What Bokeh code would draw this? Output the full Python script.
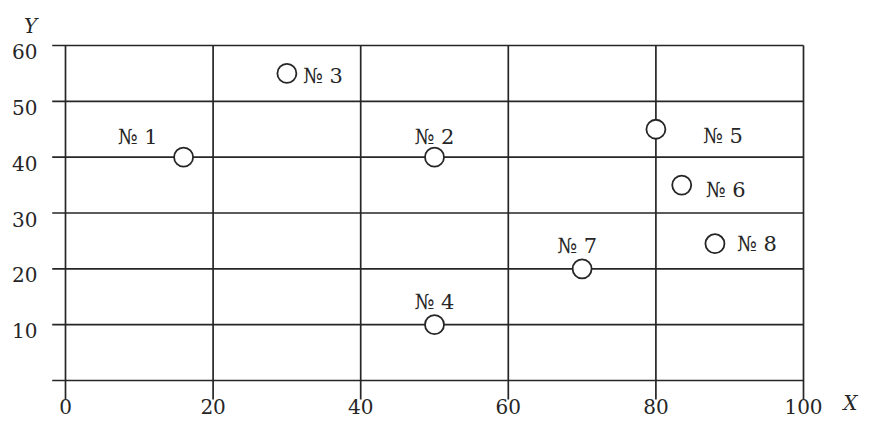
from bokeh.plotting import figure
from bokeh.models import ColumnDataSource
from bokeh.embed import file_html
from bokeh.resources import INLINE
from bokeh.core.properties import value

# ---- data ----
x_ticks = [0, 20, 40, 60, 80, 100]
y_ticks = [10, 20, 30, 40, 50, 60]
y_lines = [0, 10, 20, 30, 40, 50, 60]
x_tick_labels = [str(v) for v in x_ticks]
y_tick_labels = [str(v) for v in y_ticks]
names = ["№ 1", "№ 2", "№ 3", "№ 4", "№ 5", "№ 6", "№ 7", "№ 8"]
px = [16, 50, 30, 50, 80, 83.5, 70, 88]
py = [40, 40, 55, 10, 45, 35, 20, 24.5]

# ---- layout (label offsets in screen px) ----
lab_dx = [-46, 0, 16, 0, 47, 24, -5, 22]
lab_dy = [-20, -20, 3, -23, 7, 5, -23, 0]
lab_align = ["center", "center", "left", "center", "left", "left", "center", "left"]

INK = "#262626"
FONT = "DejaVu Serif"
W, H = 859, 421
# pixel scale of the reference: 7.38 px per x unit, 5.583 px per y unit
x0_px, x_scale = 65.0, 7.38
y0_px, y_scale = 380.0, 5.583
x_range = (-x0_px / x_scale, (W - x0_px) / x_scale)
y_range = ((y0_px - H) / y_scale, y0_px / y_scale)

p = figure(width=W, height=H, x_range=x_range, y_range=y_range,
           output_backend="svg", toolbar_location=None, min_border=0)
p.axis.visible = False
p.outline_line_color = None
p.grid.visible = False
p.background_fill_color = "white"
p.border_fill_color = "white"

# grid lines
x_left = -1.8
y_bottom = -3.4
p.segment(x0=[x_left] * len(y_lines), y0=y_lines, x1=[max(x_ticks)] * len(y_lines), y1=y_lines,
          line_color=INK, line_width=1.7)
p.segment(x0=x_ticks, y0=[y_bottom] * len(x_ticks), x1=x_ticks, y1=[max(y_lines)] * len(x_ticks),
          line_color=INK, line_width=1.7)

# tick labels
p.text(x=[0] * len(y_ticks), y=y_ticks, text=y_tick_labels, x_offset=-28, y_offset=6,
       text_align="right", text_baseline="middle", text_font=value(FONT),
       text_font_size="20px", text_color=INK)
p.text(x=x_ticks, y=[0] * len(x_ticks), text=x_tick_labels, x_offset=0, y_offset=33,
       text_align="center", text_baseline="bottom", text_font=value(FONT),
       text_font_size="20px", text_color=INK)

# axis names
p.text(x=[x_ticks[0]], y=[max(y_ticks)], text=["Y"], x_offset=-35, y_offset=-20,
       text_align="center", text_baseline="middle", text_font=value(FONT),
       text_font_style="italic", text_font_size="20px", text_color=INK)
p.text(x=[max(x_ticks)], y=[0], text=["X"], x_offset=54, y_offset=34,
       text_align="right", text_baseline="bottom", text_font=value(FONT),
       text_font_style="italic", text_font_size="20px", text_color=INK)

# points
p.scatter(px, py, size=19, marker="circle", fill_color="white", line_color=INK, line_width=1.8)

# labels
for al in ("center", "left"):
    idx = [i for i, a in enumerate(lab_align) if a == al]
    src = ColumnDataSource(dict(
        x=[px[i] for i in idx], y=[py[i] for i in idx], t=[names[i] for i in idx],
        dx=[lab_dx[i] for i in idx], dy=[lab_dy[i] for i in idx]))
    p.text(x="x", y="y", text="t", x_offset="dx", y_offset="dy", source=src,
           text_align=al, text_baseline="middle", text_font=value(FONT),
           text_font_size="21px", text_color=INK)

open("out.html", "w").write(file_html(p, INLINE))
